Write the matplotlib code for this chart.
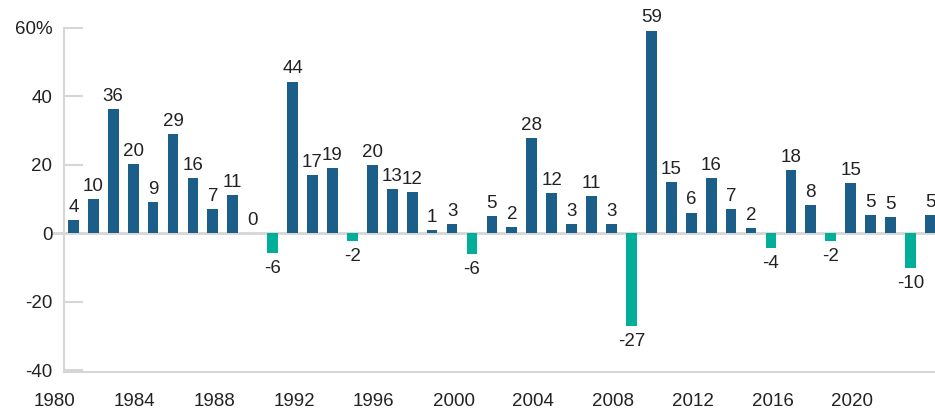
import matplotlib
matplotlib.use("Agg")
import matplotlib.pyplot as plt
import numpy as np

# annual returns, % (bar heights; labels are rounded)
years = list(range(1980, 2024))
returns = [
    3.9, 10.0, 36.2, 20.1, 9.0, 29.0, 16.0, 7.0, 11.0, 0.1,
    -5.8, 44.2, 17.0, 18.9, -2.3, 19.8, 12.8, 11.9, 0.8, 2.7,
    -6.0, 4.9, 1.8, 27.8, 11.8, 2.7, 10.9, 2.7, -27.0, 59.1,
    14.9, 6.0, 16.0, 7.0, 1.6, -4.2, 18.3, 8.3, -2.4, 14.6,
    5.3, 4.8, -10.3, 5.3,
]
xtick_years = list(range(1980, 2024, 4))
ytick_values = [-40, -20, 0, 20, 40, 60]
ytick_labels = ["-40", "-20", "0", "20", "40", "60%"]

POS = "#1a5e89"
NEG = "#00ae99"
TEXT = "#222222"
LINE = "#d6d6d6"

plt.rcParams["font.family"] = ["Liberation Sans", "DejaVu Sans"]

fig = plt.figure(figsize=(9.35, 4.09), dpi=100)
ax = fig.add_axes([53 / 935, 37 / 409, 882 / 935, 344.5 / 409])

x = np.array(years) + 0.92
vals = np.array(returns)
colors = [POS if v >= 0 else NEG for v in vals]
ax.bar(x, vals, width=0.54, color=colors, linewidth=0, zorder=2)
ax.axhline(0, color=LINE, linewidth=2.0, zorder=1)

for xi, v in zip(x, vals):
    label = f"{v:.0f}"
    if v >= 0:
        ax.annotate(label, (xi, v), xytext=(0, 3), textcoords="offset points",
                    ha="center", va="bottom", fontsize=13.5, color=TEXT)
    else:
        ax.annotate(label, (xi, v), xytext=(0, -5), textcoords="offset points",
                    ha="center", va="top", fontsize=13.5, color=TEXT)

ax.set_xlim(1979.9, 2024.15)
ax.set_ylim(-40.5, 60)

spine_x = 1980.45
for side in ("top", "right"):
    ax.spines[side].set_visible(False)
ax.spines["left"].set_position(("data", spine_x))
ax.spines["left"].set_bounds(-40.5, 60)
ax.spines["bottom"].set_bounds(spine_x, 2024.15)
for side in ("left", "bottom"):
    ax.spines[side].set_color(LINE)
    ax.spines[side].set_linewidth(1.5)

ax.set_yticks(ytick_values)
ax.set_yticklabels(ytick_labels)
ax.tick_params(axis="y", direction="in", length=13.7, width=1.5, color=LINE,
               pad=8.3, labelsize=13.5, labelcolor=TEXT)
ax.set_xticks(xtick_years)
ax.set_xticklabels([str(y) for y in xtick_years])
ax.tick_params(axis="x", length=0, pad=15, labelsize=13.5, labelcolor=TEXT)

fig.savefig("out.png", dpi=100)
